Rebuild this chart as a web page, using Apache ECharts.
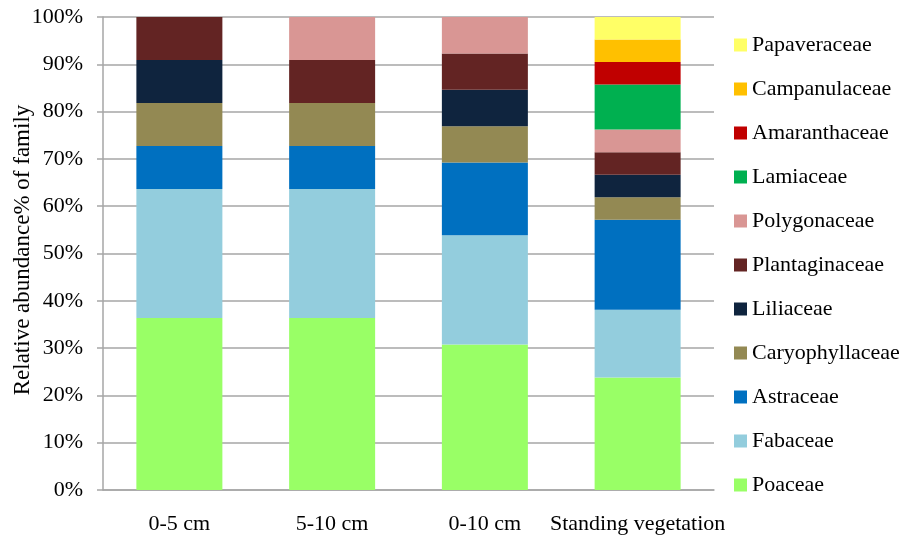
<!DOCTYPE html>
<html>
<head>
<meta charset="utf-8">
<script src="https://cdn.jsdelivr.net/npm/echarts@6/dist/echarts.min.js"></script>
<style>
  html, body { margin: 0; padding: 0; background: #fff; }
  #chart { width: 909px; height: 535px; }
</style>
</head>
<body>
<div id="chart"></div>
<script>
// Sampling groups on the x axis
const categories = ['0-5 cm', '5-10 cm', '0-10 cm', 'Standing vegetation'];

// Relative abundance (%) of each plant family per group, stacked bottom to top
const poaceae         = [36.36, 36.36, 30.77, 23.81];
const fabaceae        = [27.27, 27.27, 23.08, 14.29];
const astraceae       = [9.09, 9.09, 15.38, 19.05];
const caryophyllaceae = [9.09, 9.09, 7.69, 4.76];
const liliaceae       = [9.09, 0, 7.69, 4.76];
const plantaginaceae  = [9.09, 9.09, 7.69, 4.76];
const polygonaceae    = [0, 9.09, 7.69, 4.76];
const lamiaceae       = [0, 0, 0, 9.52];
const amaranthaceae   = [0, 0, 0, 4.76];
const campanulaceae   = [0, 0, 0, 4.76];
const papaveraceae    = [0, 0, 0, 4.76];

// Y axis tick values (percent)
const yTicks = [0, 10, 20, 30, 40, 50, 60, 70, 80, 90, 100];

const yTitle = 'Relative abundance% of family';

const families = [
  { name: 'Poaceae',         data: poaceae,         color: '#99FF66' },
  { name: 'Fabaceae',        data: fabaceae,        color: '#93CDDD' },
  { name: 'Astraceae',       data: astraceae,       color: '#0070C0' },
  { name: 'Caryophyllaceae', data: caryophyllaceae, color: '#938953' },
  { name: 'Liliaceae',       data: liliaceae,       color: '#0F243E' },
  { name: 'Plantaginaceae',  data: plantaginaceae,  color: '#632423' },
  { name: 'Polygonaceae',    data: polygonaceae,    color: '#D99694' },
  { name: 'Lamiaceae',       data: lamiaceae,       color: '#00B050' },
  { name: 'Amaranthaceae',   data: amaranthaceae,   color: '#C00000' },
  { name: 'Campanulaceae',   data: campanulaceae,   color: '#FFC000' },
  { name: 'Papaveraceae',    data: papaveraceae,    color: '#FFFF66' }
];

const FONT = '"Liberation Serif", "Times New Roman", serif';
const GRID_COLOR = '#A6A6A6';

const chart = echarts.init(document.getElementById('chart'), null, { renderer: 'canvas' });

chart.setOption({
  animation: false,
  backgroundColor: '#ffffff',
  textStyle: { fontFamily: FONT, color: '#000' },
  grid: {
    left: 103, right: 195, top: 17, bottom: 45,
    containLabel: false,
    outerBoundsMode: 'none'
  },
  // Rotated y-axis title, centred beside the value axis
  graphic: [{
    type: 'text',
    x: 23,
    y: 250,
    rotation: Math.PI / 2,
    style: {
      text: yTitle,
      fontFamily: FONT,
      fontSize: 23,
      fill: '#000',
      align: 'center',
      verticalAlign: 'middle'
    }
  }],
  legend: {
    orient: 'vertical',
    left: 729,
    top: 29,
    itemWidth: 13,
    itemHeight: 13,
    itemGap: 22,
    icon: 'rect',
    data: families.map(f => f.name).reverse(),
    textStyle: { fontFamily: FONT, fontSize: 22, lineHeight: 22, color: '#000' }
  },
  xAxis: {
    type: 'category',
    data: categories,
    axisLine: { show: true, lineStyle: { color: GRID_COLOR, width: 1.5 } },
    axisTick: { show: false },
    axisLabel: { fontFamily: FONT, fontSize: 22, color: '#000', margin: 23, interval: 0 }
  },
  yAxis: {
    type: 'value',
    min: yTicks[0],
    max: yTicks[yTicks.length - 1],
    interval: 10,
    axisLine: { show: true, lineStyle: { color: GRID_COLOR, width: 1.5 } },
    axisTick: { show: true, length: 6, lineStyle: { color: GRID_COLOR, width: 1.5 } },
    splitLine: { show: true, lineStyle: { color: GRID_COLOR, width: 1.5 } },
    axisLabel: {
      fontFamily: FONT, fontSize: 22, color: '#000', margin: 20,
      formatter: v => v + '%'
    }
  },
  series: families.map(f => ({
    name: f.name,
    type: 'bar',
    stack: 'total',
    barWidth: 86,
    data: f.data,
    itemStyle: { color: f.color },
    emphasis: { disabled: true }
  }))
});
</script>
</body>
</html>
